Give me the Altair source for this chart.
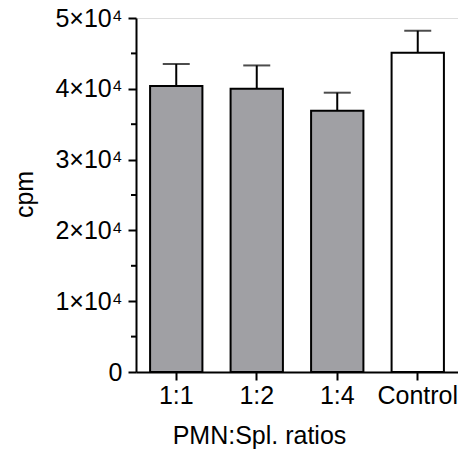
import altair as alt
import pandas as pd

groups = ["1:1", "1:2", "1:4", "Control"]
means = [40400, 40000, 36900, 45100]
sems = [3100, 3300, 2550, 3100]
minor_ticks = [5000, 15000, 25000, 35000, 45000]

df = pd.DataFrame({"group": groups, "mean": means, "sem": sems})
df["top"] = df["mean"] + df["sem"]
minor_df = pd.DataFrame({"v": minor_ticks})

FONT = "Liberation Sans"

x_scale = alt.Scale(paddingInner=0.35, paddingOuter=0.175)
y_scale = alt.Scale(domain=[0, 50000], nice=False)

x_axis = alt.Axis(title="PMN:Spl. ratios")
y_axis = alt.Axis(
    title="cpm",
    values=[0, 10000, 20000, 30000, 40000, 50000],
    labelExpr="datum.value == 0 ? '0' : (datum.value / 10000) + '×10⁴'",
)

bars = alt.Chart(df).mark_bar(stroke="black", strokeWidth=2).encode(
    x=alt.X("group:N", sort=groups, scale=x_scale, axis=x_axis),
    y=alt.Y("mean:Q", scale=y_scale, axis=y_axis),
    fill=alt.condition(alt.datum.group == "Control", alt.value("white"), alt.value("#a0a0a4")),
)

err = alt.Chart(df).mark_rule(color="black", strokeWidth=2).encode(
    x=alt.X("group:N", sort=groups, scale=x_scale, axis=x_axis),
    y=alt.Y("mean:Q", scale=y_scale, axis=y_axis),
    y2="top:Q",
)

caps = alt.Chart(df).mark_tick(color="black", thickness=2, size=27).encode(
    x=alt.X("group:N", sort=groups, scale=x_scale, axis=x_axis),
    y=alt.Y("top:Q", scale=y_scale, axis=y_axis),
)

minor = alt.Chart(minor_df).mark_rule(color="black", strokeWidth=2).encode(
    y=alt.Y("v:Q", scale=y_scale, axis=y_axis),
    x=alt.value(-5),
    x2=alt.value(0),
)

chart = (
    alt.layer(bars, err, caps, minor)
    .properties(
        width=322,
        height=354,
        autosize=alt.AutoSizeParams(type="none"),
        padding={"left": 128, "top": 10, "right": 0, "bottom": 79},
    )
    .configure_view(stroke=None)
    .configure(font=FONT)
    .configure_axis(
        labelFont=FONT,
        titleFont=FONT,
        labelColor="black",
        titleColor="black",
        titleFontWeight="normal",
        domainColor="black",
        domainWidth=2,
        tickColor="black",
        tickWidth=2,
        tickSize=8,
        grid=False,
    )
    .configure_axisX(
        labelAngle=0,
        labelAlign="center",
        labelFontSize=25,
        labelPadding=3,
        titleFontSize=25,
        titleX=123,
        titleY=71,
        titleAlign="center",
        titleBaseline="alphabetic",
    )
    .configure_axisY(
        labelFontSize=25,
        labelPadding=6,
        titleFontSize=25,
        titleX=-104,
        titleY=176,
        titleAngle=270,
        titleAlign="center",
        titleBaseline="alphabetic",
    )
)

chart.save("out.html", embed_options={"renderer": "svg", "actions": False})
